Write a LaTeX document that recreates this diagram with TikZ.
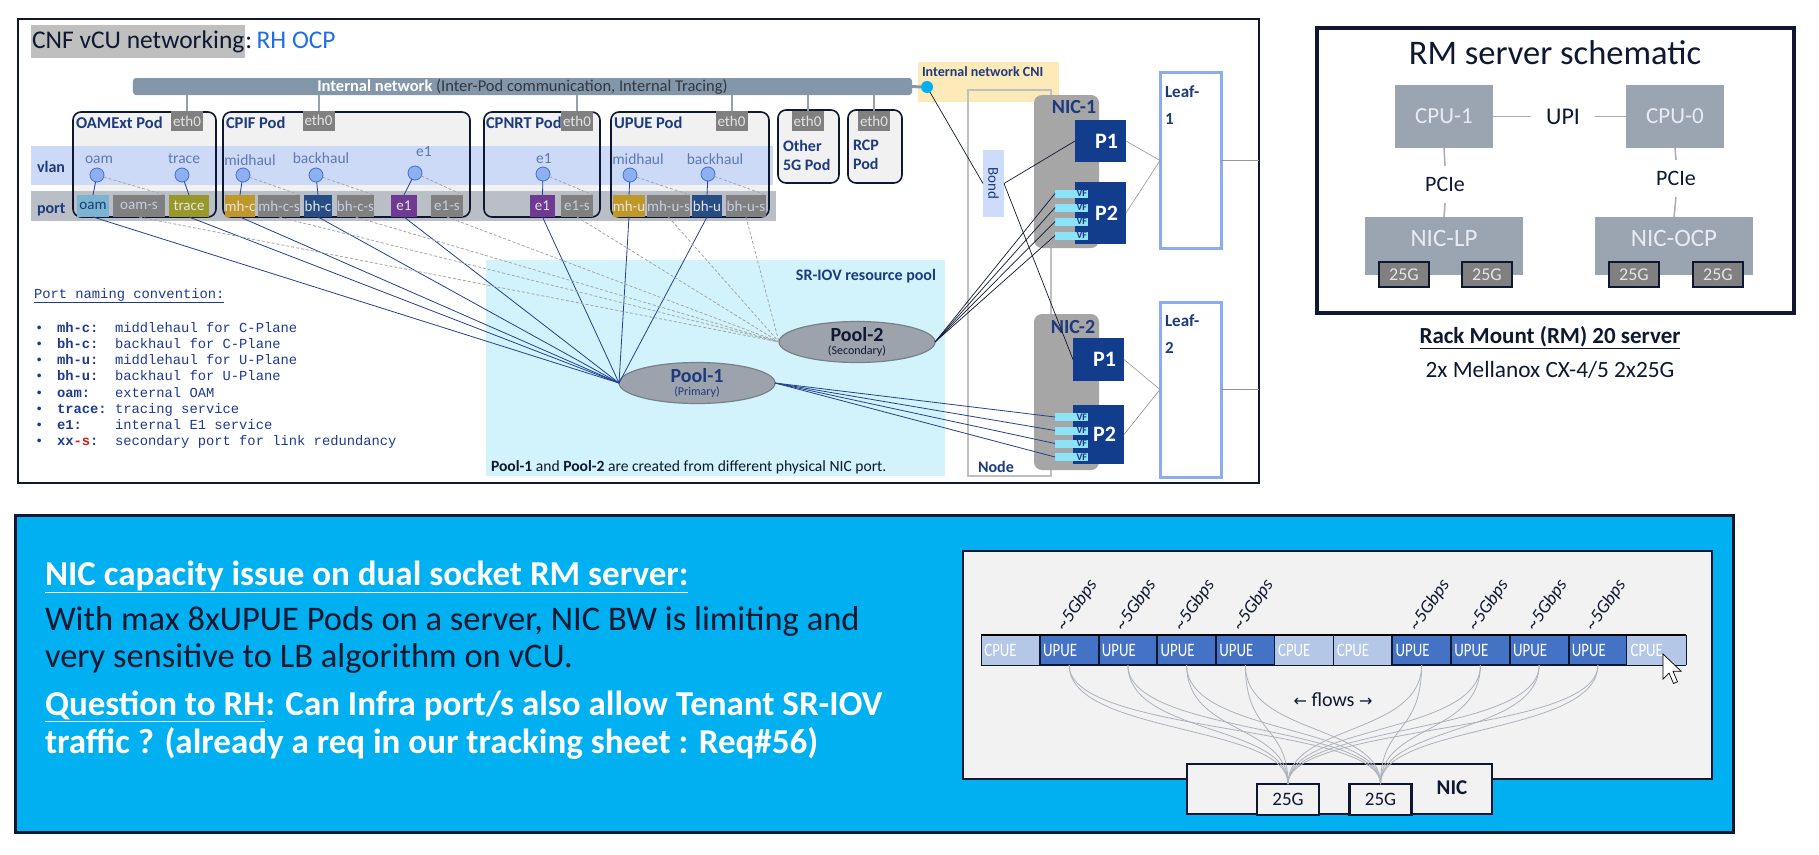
\documentclass[tikz,border=0pt]{standalone}
\usepackage{fontspec}
\setmainfont{Carlito}
\newfontfamily\monof{Liberation Mono}
\newfontfamily\arrowf{DejaVu Sans}
\usetikzlibrary{shapes.geometric}
\definecolor{navyT}{RGB}{28,58,125}
\definecolor{darkN}{RGB}{14,24,48}
\definecolor{barC}{RGB}{132,150,170}
\definecolor{barT}{RGB}{50,55,65}
\definecolor{connC}{RGB}{150,160,172}
\definecolor{cyanD}{RGB}{0,176,240}
\definecolor{cniBg}{RGB}{253,234,185}
\definecolor{ethC}{RGB}{128,128,128}
\definecolor{ethT}{RGB}{228,228,228}
\definecolor{podF}{RGB}{241,241,241}
\definecolor{vlanB}{RGB}{204,218,248}
\definecolor{portB}{RGB}{186,190,198}
\definecolor{vlanT}{RGB}{95,120,175}
\definecolor{dotF}{RGB}{140,176,242}
\definecolor{dotD}{RGB}{70,110,200}
\definecolor{oamC}{RGB}{122,180,206}
\definecolor{traceC}{RGB}{152,152,40}
\definecolor{mhC}{RGB}{192,152,42}
\definecolor{bhC}{RGB}{40,76,132}
\definecolor{eoneC}{RGB}{110,58,146}
\definecolor{secC}{RGB}{128,128,128}
\definecolor{secT}{RGB}{196,206,226}
\definecolor{solidL}{RGB}{35,65,145}
\definecolor{dashL}{RGB}{165,165,165}
\definecolor{srBg}{RGB}{210,243,252}
\definecolor{poolF}{RGB}{156,163,173}
\definecolor{poolD}{RGB}{120,128,138}
\definecolor{nodeD}{RGB}{192,192,192}
\definecolor{bondC}{RGB}{205,220,250}
\definecolor{nicG}{RGB}{166,166,166}
\definecolor{pBox}{RGB}{18,60,140}
\definecolor{vfC}{RGB}{140,226,246}
\definecolor{leafC}{RGB}{140,172,240}
\definecolor{titleG}{RGB}{191,191,191}
\definecolor{ocpB}{RGB}{30,110,232}
\definecolor{skyB}{RGB}{0,176,240}
\definecolor{panelG}{RGB}{242,242,242}
\definecolor{upueC}{RGB}{68,114,196}
\definecolor{cpueC}{RGB}{180,199,231}
\definecolor{flowC}{RGB}{172,178,188}
\definecolor{cpuC}{RGB}{155,165,178}
\definecolor{cpuT}{RGB}{232,236,242}
\definecolor{monoC}{RGB}{30,58,145}
\definecolor{redS}{RGB}{220,20,20}
\definecolor{grayL}{RGB}{150,150,150}
\definecolor{rmL}{RGB}{165,172,182}
\newcommand\setsz[2]{\fontsize{#1bp}{#2bp}\selectfont}
\newcommand\pline[2]{\makebox[22bp][l]{\textbullet}\makebox[58bp][l]{\textbf{#1}}#2}
\newcommand\cond[1]{\scalebox{0.78}[1]{#1}}
\begin{document}
\begin{tikzpicture}[x=1bp,y=-1bp,
  every node/.style={inner sep=0pt,outer sep=0pt},
  podb/.style={draw=darkN,line width=1.6bp,rounded corners=8bp},
  podt/.style={anchor=base west,font=\bfseries\setsz{16.5}{16.5},text=navyT},
  eth/.style={fill=ethC,text=ethT,minimum width=32bp,minimum height=20bp,font=\setsz{15}{15}},
  port/.style={minimum height=22bp,font=\setsz{15}{15},text=ethT},
  sport/.style={port,fill=secC,text=secT},
  vdot/.style={circle,fill=dotF,draw=dotD,line width=0.8bp,minimum size=14bp},
  vlab/.style={font=\setsz{15.5}{15.5},text=vlanT},
  sline/.style={solidL,line width=0.8bp},
  dline/.style={dashL,line width=0.8bp,dash pattern=on 3bp off 2bp},
  pool/.style={ellipse,fill=poolF,draw=poolD,line width=1.2bp,minimum width=156bp,minimum height=41bp,align=center},
  pbox/.style={fill=pBox,text=white,font=\bfseries\setsz{22}{22},minimum width=51bp},
  vf/.style={fill=vfC,minimum width=33bp,minimum height=8bp,text width=31bp,align=right,font=\bfseries\setsz{10}{10},text=navyT},
  leaf/.style={draw=leafC,line width=3bp,fill=white,minimum width=61bp,minimum height=175bp},
  leaflab/.style={anchor=north west,align=left,font=\bfseries\setsz{17}{27},text=navyT},
  cellU/.style={fill=upueC,draw=darkN,line width=2bp,minimum width=58.75bp,minimum height=30bp,text width=52bp,align=left,text=white,font=\setsz{19}{19}},
  cellC/.style={fill=cpueC,minimum width=58.75bp,minimum height=30bp,text width=52bp,align=left,text=white,font=\setsz{19}{19}},
  flow/.style={flowC,line width=0.8bp},
  cpu/.style={fill=cpuC,font=\setsz{23}{23},text=cpuT},
  rmport/.style={fill=ethC,draw=darkN,line width=1.2bp,minimum width=50bp,minimum height=25bp,font=\setsz{18}{18},text=ethT},
  bport/.style={fill=panelG,draw=darkN,line width=2.5bp,minimum width=62bp,minimum height=31bp,font=\setsz{19}{19},text=darkN},
  mono/.style={anchor=base west,font=\monof\setsz{13.8}{13.8},text=monoC},
  bigw/.style={anchor=base west,font=\bfseries\setsz{35}{35},text=white},
  bigd/.style={anchor=base west,font=\setsz{34.5}{34.5},text=darkN}
]
\useasboundingbox (0,0) rectangle (1819,855);
\fill[white] (0,0) rectangle (1819,855);

% ================= top-left frame =================
\fill[srBg] (486,260) rectangle (945,476);
\node[anchor=base east,font=\bfseries\setsz{16}{16},text=navyT] (srlab) at (936,280) {SR-IOV resource pool};
\node[anchor=base west,font=\setsz{15.6}{15.6},text=darkN] (srnote) at (491,471) {\textbf{Pool-1} and \textbf{Pool-2} are created from different physical NIC port.};
\fill[cniBg] (918,62) rectangle (1059,102);
\node[anchor=base west,font=\bfseries\setsz{14}{14},text=navyT] (cnilab) at (922,76) {Internal network CNI};
\draw[nodeD,line width=2.5bp] (968,90) rectangle (1051,476);
\node[anchor=base west,font=\bfseries\setsz{16}{16},text=navyT] (nodelab) at (978,472) {Node};
\draw[darkN,line width=1.2bp] (18,19) rectangle (1259,483);

% title
\node[fill=titleG,anchor=west,minimum height=33bp,inner xsep=1bp,font=\setsz{25.5}{25.5},text=darkN] (title) at (31,41.5) {CNF vCU networking};
\node[anchor=base west,font=\setsz{25.5}{25.5},text=darkN] (titleb) at (title.base east) {:\,\textcolor{ocpB}{RH OCP}};

% internal network bar
\node[fill=barC,rounded corners=3bp,minimum width=779bp,minimum height=17bp,font=\setsz{16.5}{16.5}] (bar) at (522.5,86.5) {\textcolor{white}{\bfseries Internal network} \textcolor{barT}{(Inter-Pod communication, Internal Tracing)}};
\node[circle,fill=cyanD,minimum size=12bp] (cnidot) at (927,87) {};
\draw[barC,line width=3bp] (bar.east) -- (cnidot.west);

% pods fill
\fill[podF,rounded corners=8bp] (73,112) rectangle (216,217);
\fill[podF,rounded corners=8bp] (223,112) rectangle (470,217);
\fill[podF,rounded corners=8bp] (484,112) rectangle (600,217);
\fill[podF,rounded corners=8bp] (611,112) rectangle (769,217);
\fill[podF,rounded corners=8bp] (778,110) rectangle (839,183);
\fill[podF,rounded corners=8bp] (848,110) rectangle (902,183);
% bands
\fill[vlanB] (31,146) rectangle (773,185);
\fill[portB] (31,191) rectangle (776,221);
\node[anchor=base west,font=\bfseries\setsz{16}{16},text=navyT] (vlanlab) at (37,172) {vlan};
\node[anchor=base west,font=\bfseries\setsz{16}{16},text=navyT] (portlab) at (37,213) {port};
% pod borders
\draw[podb] (73,112) rectangle (216,217);
\draw[podb] (223,112) rectangle (470,217);
\draw[podb] (484,112) rectangle (600,217);
\draw[podb] (611,112) rectangle (769,217);
\draw[podb] (778,110) rectangle (839,183);
\draw[podb] (848,110) rectangle (902,183);
% pod titles
\node[podt] (t1) at (76,128) {OAMExt Pod};
\node[podt] (t2) at (226,128) {CPIF Pod};
\node[podt] (t3) at (486,128) {CPNRT Pod};
\node[podt] (t4) at (614,128) {UPUE Pod};
\node[anchor=north west,align=left,font=\bfseries\setsz{16}{19},text=navyT] (t5) at (783,140) {Other\\5G Pod};
\node[anchor=north west,align=left,font=\bfseries\setsz{16}{19},text=navyT] (t6) at (853,140) {RCP\\Pod};
% eth0
\node[eth] (eth1) at (187,121) {eth0};
\node[eth] (eth2) at (318.5,120.5) {eth0};
\node[eth] (eth3) at (577,121) {eth0};
\node[eth] (eth4) at (731.5,121) {eth0};
\node[eth] (eth5) at (807.5,121) {eth0};
\node[eth] (eth6) at (874,121) {eth0};
\foreach \e in {eth1,eth2,eth3,eth4,eth5,eth6}
  \draw[connC,line width=2bp] (\e.north) -- (\e.north |- bar.south);

% ports
\node[port,fill=oamC,text=navyT,minimum width=32bp] (pOam) at (93,206) {oam};
\node[sport,minimum width=52bp] (pOamS) at (139,206) {oam-s};
\node[port,fill=traceC,minimum width=40bp] (pTrace) at (189,206) {trace};
\node[port,fill=mhC,minimum width=28bp] (pMhc) at (240,206) {mh-c};
\node[sport,minimum width=42bp] (pMhcS) at (279,206) {mh-c-s};
\node[port,fill=bhC,minimum width=28bp] (pBhc) at (318,206) {bh-c};
\node[sport,minimum width=37bp] (pBhcS) at (355.5,206) {bh-c-s};
\node[port,fill=eoneC,minimum width=26bp] (pE1) at (404,206) {e1};
\node[sport,minimum width=32bp] (pE1S) at (447,206) {e1-s};
\node[port,fill=eoneC,minimum width=25bp] (pE1n) at (542.5,206) {e1};
\node[sport,minimum width=32bp] (pE1nS) at (577,206) {e1-s};
\node[port,fill=mhC,minimum width=30bp] (pMhu) at (629,206) {mh-u};
\node[sport,minimum width=43bp] (pMhuS) at (668.5,206) {mh-u-s};
\node[port,fill=bhC,minimum width=30bp] (pBhu) at (707,206) {bh-u};
\node[sport,minimum width=40bp] (pBhuS) at (746,206) {bh-u-s};

% vlan dots and labels
\node[vdot] (dOam) at (97,175) {};
\node[vdot] (dTrace) at (182,175) {};
\node[vdot] (dMhc) at (243,175) {};
\node[vdot] (dBhc) at (316,175) {};
\node[vdot] (dE1) at (415,173) {};
\node[vdot] (dE1n) at (543,174) {};
\node[vdot] (dMhu) at (630,175) {};
\node[vdot] (dBhu) at (708,174) {};
\node[vlab] (lOam) at (99,160) {oam};
\node[vlab] (lTrace) at (184,159) {trace};
\node[vlab] (lMhc) at (250,160) {midhaul};
\node[vlab] (lBhc) at (321,158) {backhaul};
\node[vlab] (lE1) at (424,152) {e1};
\node[vlab] (lE1n) at (544,159) {e1};
\node[vlab] (lMhu) at (638,159) {midhaul};
\node[vlab] (lBhu) at (715,159) {backhaul};

% pools
\node[pool] (pool1) at (697,383) {{\bfseries\setsz{20}{20}\textcolor{navyT}{Pool-1}}\\[1bp]{\setsz{12}{12}\textcolor{navyT}{(Primary)}}};
\node[pool] (pool2) at (857,342) {{\bfseries\setsz{20}{20}\textcolor{darkN}{Pool-2}}\\[1bp]{\setsz{12}{12}\textcolor{darkN}{(Secondary)}}};

% vlan-to-port lines
\foreach \d/\p in {dOam/pOam,dTrace/pTrace,dMhc/pMhc,dBhc/pBhc,dE1/pE1,dE1n/pE1n,dMhu/pMhu,dBhu/pBhu}
  \draw[sline] (\d) -- (\p.north);
\foreach \d/\p in {dOam/pOamS,dMhc/pMhcS,dBhc/pBhcS,dE1/pE1S,dE1n/pE1nS,dMhu/pMhuS,dBhu/pBhuS}
  \draw[dline] (\d) -- (\p.north east);
% port-to-pool lines
\foreach \p in {pOam,pTrace,pMhc,pBhc,pE1,pE1n,pMhu,pBhu}
  \draw[sline] (\p.south) -- (pool1.west);
\foreach \p in {pOamS,pMhcS,pBhcS,pE1S,pE1nS,pMhuS,pBhuS}
  \draw[dline] (\p.south) -- (pool2.west);

% bond
\node[fill=bondC,minimum width=21bp,minimum height=67bp,font=\setsz{15}{15},text=navyT] (bond) at (993.5,183.5) {\rotatebox{-90}{Bond}};

% NIC-1
\node[fill=nicG,rounded corners=8bp,minimum width=65bp,minimum height=153bp] (nic1) at (1066.5,171.5) {};
\node[anchor=base,font=\bfseries\setsz{20}{20},text=navyT] (nic1lab) at (1074,113) {NIC-1};
\node[pbox,minimum height=42bp] (n1p1) at (1100.5,141) {\hspace*{12bp}P1};
\node[pbox,minimum height=62bp] (n1p2) at (1100.5,213) {\hspace*{12bp}P2};
\node[vf] (vfa1) at (1071.5,193.5) {VF};
\node[vf] (vfa2) at (1071.5,207.5) {VF};
\node[vf] (vfa3) at (1071.5,221.5) {VF};
\node[vf] (vfa4) at (1071.5,235.5) {VF};
% NIC-2
\node[fill=nicG,rounded corners=8bp,minimum width=65bp,minimum height=156bp] (nic2) at (1066.5,392) {};
\node[anchor=base,font=\bfseries\setsz{20}{20},text=navyT] (nic2lab) at (1073,333) {NIC-2};
\node[pbox,minimum height=43bp] (n2p1) at (1098.5,359.5) {\hspace*{12bp}P1};
\node[pbox,minimum height=59bp] (n2p2) at (1098.5,434.5) {\hspace*{12bp}P2};
\node[vf] (vfb1) at (1071.5,417) {VF};
\node[vf] (vfb2) at (1071.5,430.5) {VF};
\node[vf] (vfb3) at (1071.5,443.5) {VF};
\node[vf] (vfb4) at (1071.5,457) {VF};
% leafs
\node[leaf] (leaf1) at (1190.5,160.5) {};
\node[leaflab] (leaf1lab) at (1165,86) {Leaf-\\1};
\node[leaf] (leaf2) at (1190.5,389.5) {};
\node[leaflab] (leaf2lab) at (1165,315) {Leaf-\\2};
\coordinate (l1r) at (1259,160.5);
\coordinate (l2r) at (1259,389.5);
\draw[grayL,line width=0.8bp] (leaf1.east) -- (l1r);
\draw[grayL,line width=0.8bp] (leaf2.east) -- (l2r);
\foreach \p/\l in {n1p1/leaf1,n1p2/leaf1,n2p1/leaf2,n2p2/leaf2}
  \draw[grayL,line width=0.6bp] (\p.east) -- (\l.west);

% bond & pool to NIC lines
\draw[darkN,line width=0.7bp] (cnidot) -- (bond.west);
\draw[darkN,line width=0.7bp] (bond.east) -- (n1p1.west);
\draw[darkN,line width=0.7bp] (bond.east) -- (n2p1.west);
\foreach \v in {vfa1,vfa2,vfa3,vfa4}
  \draw[darkN,line width=0.7bp] (pool2.east) -- (\v.west);
\foreach \v in {vfb1,vfb2,vfb3,vfb4}
  \draw[solidL,line width=0.8bp] (pool1.east) -- (\v.west);

% port naming convention
\node[mono] (pnc) at (34,298) {\underline{Port naming convention:}};
\node[mono] (pn1) at (35,332) {\pline{mh-c:}{middlehaul for C-Plane}};
\node[mono] (pn2) at (35,348) {\pline{bh-c:}{backhaul for C-Plane}};
\node[mono] (pn3) at (35,364) {\pline{mh-u:}{middlehaul for U-Plane}};
\node[mono] (pn4) at (35,380) {\pline{bh-u:}{backhaul for U-Plane}};
\node[mono] (pn5) at (35,397) {\pline{oam:}{external OAM}};
\node[mono] (pn6) at (35,413) {\pline{trace:}{tracing service}};
\node[mono] (pn7) at (35,429) {\pline{e1:}{internal E1 service}};
\node[mono] (pn8) at (35,445) {\pline{xx\textcolor{redS}{-s}:}{secondary port for link redundancy}};

% ================= RM server schematic =================
\draw[darkN,line width=4bp] (1317,28) rectangle (1794,313);
\node[anchor=base,font=\setsz{34.5}{34.5},text=darkN] (rmtitle) at (1555,64) {RM server schematic};
\node[cpu,minimum width=98bp,minimum height=63bp] (cpu1) at (1444,116.5) {CPU-1};
\node[cpu,minimum width=98bp,minimum height=63bp] (cpu0) at (1675,116.5) {CPU-0};
\node[inner xsep=15bp,font=\setsz{24}{24},text=darkN] (upi) at (1563,116.5) {UPI};
\draw[rmL,line width=1.5bp] (cpu1.east) -- (upi.west);
\draw[rmL,line width=1.5bp] (upi.east) -- (cpu0.west);
\node[cpu,minimum width=158bp,minimum height=58bp] (niclp) at (1444,246) {};
\node[cpu,minimum width=158bp,minimum height=58bp] (nicocp) at (1674,246) {};
\node[font=\setsz{25}{25},text=cpuT] (niclpT) at (1444,238) {NIC-LP};
\node[font=\setsz{25}{25},text=cpuT] (nicocpT) at (1674,238) {NIC-OCP};
\node[minimum height=37bp,font=\setsz{22}{22},text=darkN] (pcie1) at (1445,184.5) {PCIe};
\node[minimum height=37bp,font=\setsz{22}{22},text=darkN] (pcie0) at (1676,178.5) {PCIe};
\draw[rmL,line width=1.5bp] (cpu1.south) -- (pcie1.north);
\draw[rmL,line width=1.5bp] (pcie1.south) -- (niclp.north);
\draw[rmL,line width=1.5bp] (cpu0.south) -- (pcie0.north);
\draw[rmL,line width=1.5bp] (pcie0.south) -- (nicocp.north);
\node[rmport] (r25a) at (1404,274.5) {25G};
\node[rmport] (r25b) at (1487,274.5) {25G};
\node[rmport] (r25c) at (1634,274.5) {25G};
\node[rmport] (r25d) at (1718,274.5) {25G};
\node[anchor=base,font=\bfseries\setsz{23}{23},text=darkN] (rmcap) at (1550,343) {\underline{Rack Mount (RM) 20 server}};
\node[anchor=base,font=\setsz{23.3}{23.3},text=darkN] (rmsub) at (1550,377) {2x Mellanox CX-4/5 2x25G};

% ================= bottom blue box =================
\filldraw[fill=skyB,draw=darkN,line width=3bp] (15,515) rectangle (1733,832);
\node[bigw] (h1) at (45,585) {\underline{NIC capacity issue on dual socket RM server:}};
\node[bigd] (b1) at (45,630) {With max 8xUPUE Pods on a server, NIC BW is limiting and};
\node[bigd] (b2) at (45,667) {very sensitive to LB algorithm on vCU.};
\node[bigw] (q1) at (45,715) {\underline{Question to RH}: Can Infra port/s also allow Tenant SR-IOV};
\node[bigw] (q2) at (45,753) {traffic ? (already a req in our tracking sheet : Req\#56)};

\filldraw[fill=panelG,draw=darkN,line width=2.5bp] (963,551) rectangle (1712,779);
\foreach \i/\typ in {0/C,1/U,2/U,3/U,4/U,5/C,6/C,7/U,8/U,9/U,10/U,11/C}
  \node[cell\typ] (cell\i) at ({981+58.75*\i+29.375},650) {\cond{\typ PUE}};
\draw[black,line width=2.5bp] (cell0.north west) -- (cell11.north east);
\draw[darkN,line width=0.8bp] (cell0.south west) -- (cell11.south east);
\draw[darkN,line width=0.6bp] (cell5.north east) -- (cell5.south east);
\draw[darkN,line width=0.6bp] (cell0.north west) -- (cell0.south west);
\draw[darkN,line width=0.6bp] (cell11.north east) -- (cell11.south east);
\foreach \i in {1,2,3,4,7,8,9,10}
  \node[rotate=55,anchor=base west,font=\itshape\setsz{18.5}{18.5},text=darkN] (bw\i) at ([xshift=-4bp,yshift=4bp]cell\i.north) {\textasciitilde 5Gbps};

% NIC box
\node[fill=panelG,draw=darkN,line width=2.5bp,minimum width=305bp,minimum height=50bp] (nicb) at (1339.5,789) {};
\node[bport] (g1) at (1288,799.5) {25G};
\node[bport] (g2) at (1380.5,799.5) {25G};
\node[font=\bfseries\setsz{21}{21},text=darkN] (niclab) at (1452,788) {NIC};
\foreach \i in {1,2,3,4,7,8,9,10}
  \foreach \g in {g1,g2}
    \draw[flow] (cell\i.south) .. controls +(0,70) and +(0,-60) .. (\g.north);
\node[fill=panelG,inner sep=2bp,font=\setsz{20}{20},text=darkN] (flows) at (1333,700) {{\arrowf\setsz{16}{16}←} flows {\arrowf\setsz{16}{16}→}};
% mouse cursor
\filldraw[fill=white,draw=black,line width=0.7bp] (1663,654) -- ++(0,25) -- ++(6,-6) -- ++(4.5,10.5) -- ++(4,-1.7) -- ++(-4.5,-10.5) -- ++(8.2,0) -- cycle;
\end{tikzpicture}
\end{document}
